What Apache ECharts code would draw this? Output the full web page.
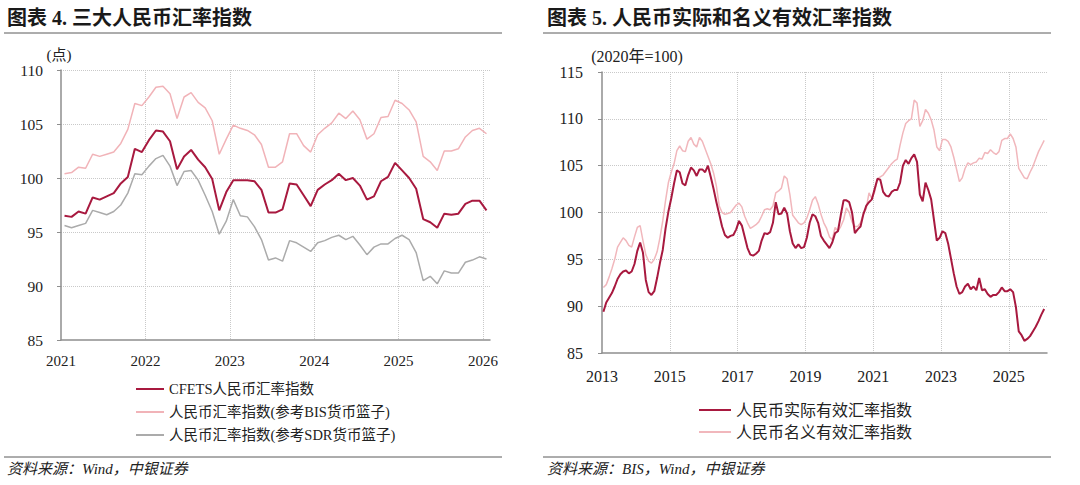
<!DOCTYPE html>
<html><head><meta charset="utf-8">
<script src="https://cdn.jsdelivr.net/npm/echarts@6/dist/echarts.min.js"></script>
<style>html,body{margin:0;padding:0;background:#fff}#c{width:1080px;height:485px}</style>
</head><body><div id="c"></div>
<script>
// ---------- Left chart: 三大人民币汇率指数 (monthly, from 2021-01) ----------
const leftStartYear = 2021;
const leftSeriesNames = ['CFETS人民币汇率指数', '人民币汇率指数(参考BIS货币篮子)', '人民币汇率指数(参考SDR货币篮子)'];
const cfets = [
  96.5, 96.4, 96.9, 96.7, 98.2, 98.0, 98.3, 98.6, 99.5, 100.1,
  102.7, 102.4, 103.5, 104.4, 104.3, 103.4, 100.8, 102.0, 102.6, 101.7,
  101.0, 99.9, 97.0, 98.7, 99.8, 99.8, 99.8, 99.7, 98.9, 96.8,
  96.8, 97.1, 99.5, 99.4, 98.4, 97.4, 98.9, 99.4, 99.8, 100.4,
  99.8, 100.0, 99.3, 98.0, 98.3, 99.7, 100.1, 101.4, 100.7, 100.0,
  99.0, 96.2, 95.9, 95.4, 96.7, 96.6, 96.7, 97.6, 97.9, 97.9,
  97.0
];
const bisBasket = [
  100.4, 100.5, 101.0, 100.9, 102.2, 102.0, 102.2, 102.4, 103.2, 104.5,
  106.9, 106.7, 107.5, 108.4, 108.5, 107.8, 105.5, 107.5, 107.9, 107.0,
  106.5, 105.3, 102.2, 103.6, 104.9, 104.6, 104.4, 104.0, 103.1, 101.0,
  101.0, 101.5, 104.1, 104.1, 103.0, 102.4, 104.0, 104.6, 105.1, 106.0,
  105.5, 106.2, 105.4, 103.6, 104.1, 105.6, 105.7, 107.2, 106.9, 106.3,
  105.2, 102.0, 101.5, 100.7, 102.5, 102.5, 102.7, 103.8, 104.4, 104.6,
  104.1
];
const sdrBasket = [
  95.6, 95.4, 95.6, 95.8, 97.0, 96.8, 96.6, 96.9, 97.5, 98.6,
  100.4, 100.3, 101.1, 101.8, 102.1, 101.1, 99.3, 100.6, 100.7, 99.8,
  98.4, 96.9, 94.8, 96.0, 98.0, 96.5, 96.4, 95.5, 94.3, 92.4,
  92.6, 92.3, 94.2, 94.0, 93.6, 93.2, 94.0, 94.2, 94.5, 94.7,
  94.3, 94.6, 93.8, 92.9, 93.6, 93.9, 93.9, 94.4, 94.7, 94.3,
  93.1, 90.5, 90.9, 90.2, 91.4, 91.2, 91.2, 92.2, 92.4, 92.7,
  92.5
];

// ---------- Right chart: 人民币实际和名义有效汇率指数 (monthly, from 2013-01) ----------
const rightStartYear = 2013;
const rightSeriesNames = ['人民币实际有效汇率指数', '人民币名义有效汇率指数'];
const reer = [
  89.4, 90.4, 90.9, 91.4, 92.1, 92.9, 93.4, 93.7, 93.8, 93.5,
  93.7, 94.5, 95.9, 96.8, 95.7, 92.8, 91.5, 91.2, 91.6, 93.0,
  94.6, 96.0, 98.3, 100.1, 101.5, 103.1, 104.5, 104.3, 103.1, 102.9,
  104.0, 104.8, 104.5, 103.9, 104.6, 104.6, 104.3, 105.0, 103.8, 102.5,
  101.1, 99.8, 98.5, 97.6, 97.3, 97.5, 97.6, 98.2, 99.1, 98.6,
  97.4, 96.2, 95.5, 95.4, 95.6, 95.9, 97.0, 97.8, 97.7, 97.9,
  98.9, 101.1, 99.8, 99.9, 100.5, 99.9, 98.0, 96.7, 96.2, 96.6,
  96.2, 96.3, 97.3, 98.9, 99.8, 99.6, 98.9, 97.5, 97.0, 96.6,
  96.2, 96.8, 97.8, 98.0, 99.7, 101.3, 101.3, 101.1, 100.0, 97.8,
  98.2, 98.5, 99.8, 100.7, 101.1, 101.4, 102.5, 103.6, 103.5, 102.2,
  101.8, 101.7, 102.2, 102.4, 102.4, 103.2, 105.0, 105.6, 105.2, 105.8,
  106.2, 105.4, 101.9, 101.2, 103.2, 102.4, 101.4, 99.2, 97.0, 97.3,
  98.0, 97.8, 96.7, 95.1, 93.5, 92.1, 91.3, 91.5, 92.1, 92.4,
  91.8, 92.1, 91.7, 93.0, 91.7, 91.8, 91.3, 91.0, 91.2, 91.2,
  91.5, 92.0, 91.6, 91.6, 91.8, 91.5, 89.9, 87.3, 86.9, 86.3,
  86.5, 86.8, 87.3, 87.8, 88.4, 89.1, 89.7
];
const neer = [
  92.0, 92.3, 93.1, 94.0, 95.0, 96.3, 96.8, 97.3, 97.0, 96.5,
  96.3, 97.4, 98.4, 98.6, 97.0, 95.5, 94.8, 94.6, 95.0, 95.8,
  97.3, 99.1, 101.3, 103.2, 104.3, 105.2, 106.6, 107.1, 106.6, 106.5,
  107.6, 108.0, 107.3, 107.0, 108.0, 107.6, 106.8, 106.0, 105.2, 104.2,
  102.8, 100.7, 100.0, 99.8, 99.9, 100.0, 100.4, 100.8, 101.0, 100.6,
  99.6, 98.9, 98.3, 98.5, 98.7, 99.0, 99.6, 100.3, 100.4, 100.3,
  100.7, 102.1, 102.3, 102.6, 103.9, 103.6, 101.9, 99.7, 99.3, 98.9,
  98.7, 98.9, 99.4, 100.3, 101.3, 101.7, 100.9, 99.8, 98.9, 98.3,
  97.4, 97.1, 98.4, 98.0, 98.5, 99.2, 100.5, 100.0, 99.0, 98.5,
  98.5, 98.9, 99.9, 100.4, 102.1, 101.5, 102.2, 103.6, 103.8, 104.0,
  104.4, 104.8, 105.2, 105.5, 105.7, 107.2, 108.5, 109.5, 109.8, 110.0,
  112.0, 111.7, 109.2, 109.8, 111.0, 110.6, 109.9, 108.8, 107.0, 106.6,
  107.8, 107.8, 107.6, 107.0, 105.9, 104.6, 103.3, 103.7, 104.7, 105.3,
  105.1, 105.3, 105.4, 105.8, 105.7, 106.4, 106.3, 106.7, 106.4, 106.2,
  106.5, 107.7, 107.9, 107.9, 108.4, 107.9, 107.0, 104.7, 104.2, 103.7,
  103.6, 104.3, 104.9, 105.7, 106.5, 107.1, 107.7
];

// ---------- Rendering ----------
const serif = "'Liberation Serif','Noto Sans CJK SC',serif";
const txt = '#222';
const gridColor = '#c9c9c9';
const axisColor = '#8e8e8e';
// monthly observations plotted at mid-month (x in months since the start year)
const monthly = arr => arr.map((v, i) => [i + 0.5, v]);

function xAxisCfg(gi, startYear, maxMonths, stepMonths, fontSize, margin) {
  return {
    type: 'value', gridIndex: gi, min: 0, max: maxMonths, interval: stepMonths,
    axisLine: { show: true, lineStyle: { color: axisColor, width: 1.5 } },
    axisTick: { show: false },
    axisLabel: {
      margin: margin, fontSize: fontSize, color: txt, fontFamily: serif,
      showMaxLabel: false,
      formatter: v => (v % stepMonths === 0 ? String(startYear + v / 12) : '')
    },
    splitLine: { show: true, showMinLine: false, showMaxLine: false,
      lineStyle: { type: 'dotted', color: gridColor, width: 1 } }
  };
}
function yAxisCfg(gi, min, max, fontSize, margin) {
  return {
    type: 'value', gridIndex: gi, min: min, max: max, interval: 5,
    axisLine: { show: true, lineStyle: { color: axisColor, width: 1.5 } },
    axisTick: { show: true, length: 4, lineStyle: { color: axisColor } },
    axisLabel: { margin: margin, fontSize: fontSize, color: txt, fontFamily: serif },
    splitLine: { show: true, showMinLine: false,
      lineStyle: { type: 'dotted', color: gridColor, width: 1 } }
  };
}
function lineSeries(name, data, xi, color, width) {
  return { name: name, type: 'line', xAxisIndex: xi, yAxisIndex: xi, data: data,
    symbol: 'none', lineStyle: { color: color, width: width }, itemStyle: { color: color },
    emphasis: { disabled: true } };
}
// legend shows only the line segment (no marker)
const hiddenMarker = { color: 'rgba(0,0,0,0)', borderColor: 'rgba(0,0,0,0)', borderWidth: 0, opacity: 0 };

const chart = echarts.init(document.getElementById('c'), null, { renderer: 'svg' });
const sepColor = '#5a5a5a';
chart.setOption({
  animation: false,
  backgroundColor: '#fff',
  title: [
    { text: '图表 4. 三大人民币汇率指数', left: 7, top: 8, padding: 0,
      textStyle: { fontSize: 20, fontWeight: 'bold', fontFamily: serif, color: '#1a1a1a' } },
    { text: '图表 5. 人民币实际和名义有效汇率指数', left: 547, top: 8, padding: 0,
      textStyle: { fontSize: 20, fontWeight: 'bold', fontFamily: serif, color: '#1a1a1a' } }
  ],
  grid: [
    { left: 61, top: 70, width: 429, height: 270 },
    { left: 602, top: 72, width: 445, height: 281 }
  ],
  xAxis: [
    xAxisCfg(0, leftStartYear, 61, 12, 15, 13),
    xAxisCfg(1, rightStartYear, 157.5, 24, 16, 15)
  ],
  yAxis: [
    yAxisCfg(0, 85, 110, 15.5, 18),
    yAxisCfg(1, 85, 115, 16, 19)
  ],
  legend: [
    { data: leftSeriesNames, orient: 'vertical', left: 135, top: 381,
      itemWidth: 28, itemHeight: 10, itemGap: 7, padding: 0, selectedMode: false,
      itemStyle: hiddenMarker,
      textStyle: { fontSize: 14.5, lineHeight: 16, fontFamily: serif, color: txt } },
    { data: rightSeriesNames, orient: 'vertical', left: 698, top: 402,
      itemWidth: 32, itemHeight: 10, itemGap: 6, padding: 0, selectedMode: false,
      itemStyle: hiddenMarker,
      textStyle: { fontSize: 16, lineHeight: 16, fontFamily: serif, color: txt } }
  ],
  graphic: [
    { type: 'line', shape: { x1: 4, y1: 33, x2: 502, y2: 33 }, style: { stroke: sepColor, lineWidth: 1 } },
    { type: 'line', shape: { x1: 543, y1: 33, x2: 1051, y2: 33 }, style: { stroke: sepColor, lineWidth: 1 } },
    { type: 'line', shape: { x1: 4, y1: 457, x2: 502, y2: 457 }, style: { stroke: sepColor, lineWidth: 1 } },
    { type: 'line', shape: { x1: 543, y1: 457, x2: 1051, y2: 457 }, style: { stroke: sepColor, lineWidth: 1 } },
    { type: 'text', x: 59, y: 55, style: { text: '(点)', font: "15px " + serif, fill: txt, textAlign: 'center', textVerticalAlign: 'middle' } },
    { type: 'text', x: 637, y: 56, style: { text: '(2020年=100)', font: "16px " + serif, fill: txt, textAlign: 'center', textVerticalAlign: 'middle' } },
    { type: 'text', x: 7, y: 469, style: { text: '资料来源：Wind，中银证券', font: "italic 15px " + serif, fill: txt, textVerticalAlign: 'middle' } },
    { type: 'text', x: 547, y: 469, style: { text: '资料来源：BIS，Wind，中银证券', font: "italic 15px " + serif, fill: txt, textVerticalAlign: 'middle' } }
  ],
  series: [
    lineSeries(leftSeriesNames[1], monthly(bisBasket), 0, '#F1B3B8', 1.5),
    lineSeries(leftSeriesNames[2], monthly(sdrBasket), 0, '#ABABAB', 1.5),
    lineSeries(leftSeriesNames[0], monthly(cfets), 0, '#A8193F', 2),
    lineSeries(rightSeriesNames[1], monthly(neer), 1, '#F1B7BC', 1.5),
    lineSeries(rightSeriesNames[0], monthly(reer), 1, '#A8193F', 2)
  ]
});
</script></body></html>
